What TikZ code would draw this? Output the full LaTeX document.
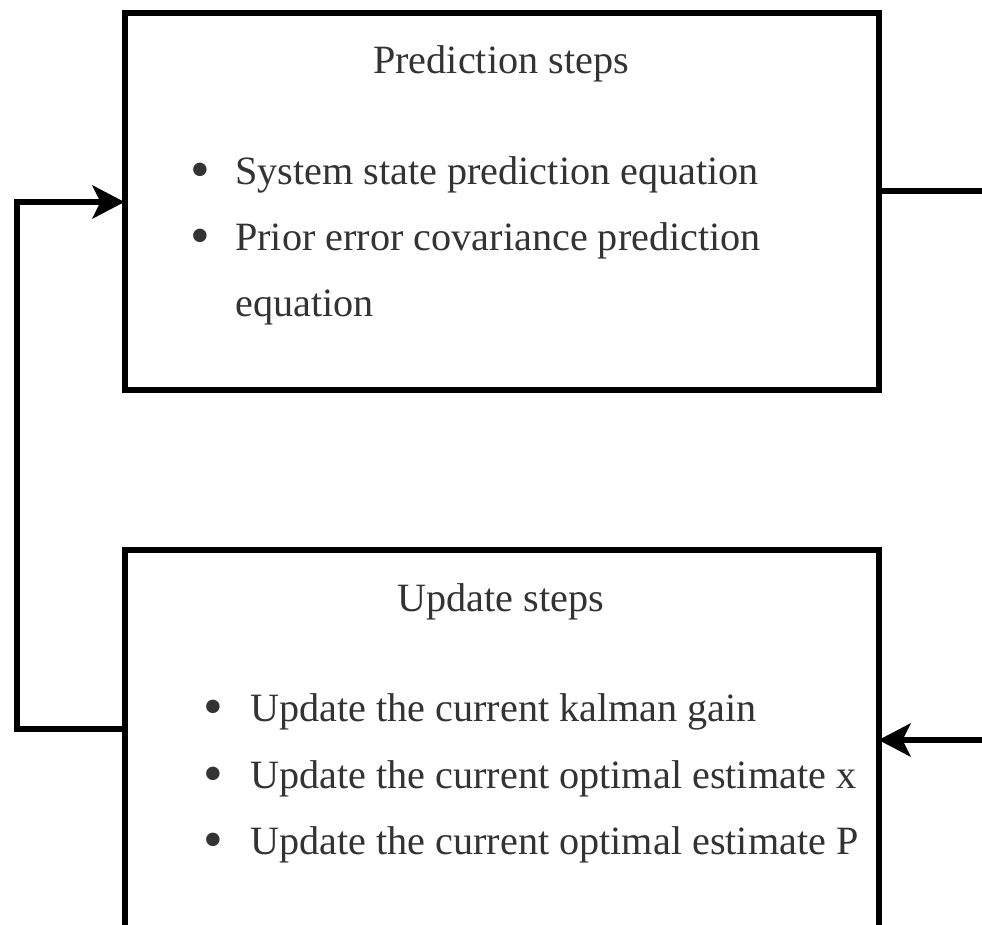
\documentclass[tikz,border=0pt]{standalone}
\usepackage{fontspec}
\usepackage{graphicx}
\setmainfont{Liberation Serif}
\usetikzlibrary{arrows.meta}
\definecolor{txt}{rgb}{0.2,0.2,0.2}
\newcommand{\bigbul}{\raisebox{-4.5pt}{\scalebox{1.4}{•}}}
\tikzset{
  box/.style={draw=black, line width=6pt, fill=none, inner sep=0pt},
  conn/.style={draw=black, line width=6pt},
  arr/.style={conn, -{Stealth[length=32pt,width=33pt,inset=8pt]}},
  txtline/.style={anchor=base west, inner sep=0pt, text=txt, font=\fontsize{40.2}{46}\selectfont},
  head/.style={anchor=base, inner sep=0pt, text=txt, font=\fontsize{40.2}{46}\selectfont},
  bul/.style={anchor=base, inner sep=0pt, text=txt, font=\fontsize{40.2}{46}\selectfont}
}
\begin{document}
\begin{tikzpicture}[x=1pt,y=-1pt]
\useasboundingbox (0,0) rectangle (982,924);
\clip (0,0) rectangle (982,924);
% boxes
\draw[box] (124.5,13) rectangle (878.5,390);
\coordinate (predW) at (124.5,202);
\coordinate (predE) at (878.5,190.5);
\draw[box] (124.5,550) rectangle (878.5,960);
\coordinate (updW) at (124.5,729);
\coordinate (updE) at (878.5,740);
% texts
\node[head] (h1) at (501,73) {Prediction steps};
\node[bul] (b1) at (200,184) {\bigbul};
\node[txtline] (t1) at (235,184) {System state prediction equation};
\node[bul] (b2) at (200,250) {\bigbul};
\node[txtline] (t2) at (235,250) {Prior error covariance prediction};
\node[txtline] (t3) at (235,316) {equation};
\node[head] (h2) at (501,611) {Update steps};
\node[bul] (b3) at (213,721) {\bigbul};
\node[txtline] (t4) at (250,721) {Update the current kalman gain};
\node[bul] (b4) at (213,788) {\bigbul};
\node[txtline] (t5) at (250,788) {Update the current optimal estimate x};
\node[bul] (b5) at (213,854) {\bigbul};
\node[txtline] (t6) at (250,854) {Update the current optimal estimate P};
% connectors
\coordinate (lft1) at (17,729);
\coordinate (lft2) at (17,202);
\draw[arr, line join=miter] (updW) -- (lft1) -- (lft2) -- (predW);
\coordinate (rt1) at (990,190.5);
\draw[conn] (predE) -- (rt1);
\coordinate (rt2) at (990,740);
\draw[arr] (rt2) -- (updE);
\end{tikzpicture}
\end{document}
